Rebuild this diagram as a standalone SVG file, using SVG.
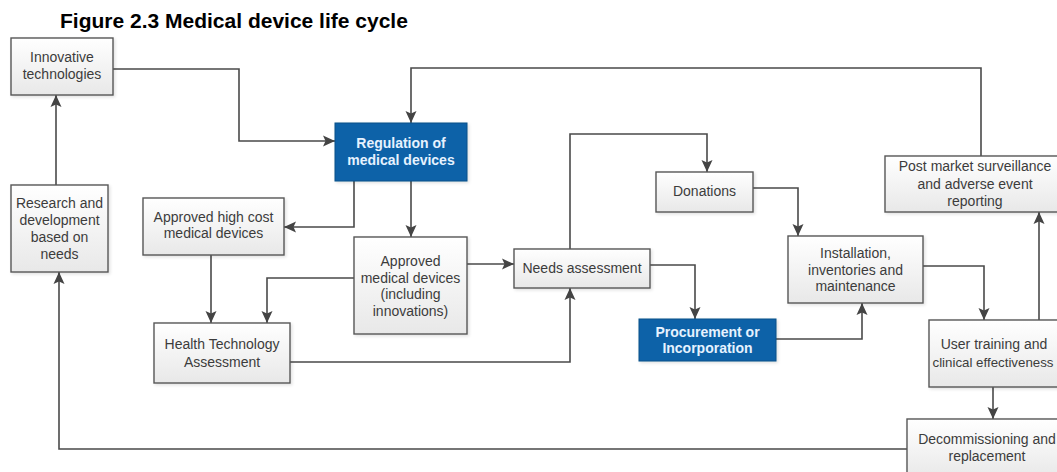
<svg xmlns="http://www.w3.org/2000/svg" width="1057" height="472" viewBox="0 0 1057 472">
<defs>
<linearGradient id="gray" x1="0" y1="0" x2="0" y2="1">
<stop offset="0" stop-color="#ffffff"/>
<stop offset="1" stop-color="#e8e8e8"/>
</linearGradient>
<filter id="sh" x="-10%" y="-10%" width="125%" height="130%">
<feDropShadow dx="1.5" dy="1.5" stdDeviation="1.5" flood-color="#000" flood-opacity="0.12"/>
</filter>
<marker id="arr" markerUnits="userSpaceOnUse" markerWidth="12" markerHeight="12" viewBox="0 0 12 12" refX="12" refY="6" orient="auto">
<path d="M0,0.5 L12,6 L0,11.5 L2.5,6 Z" fill="#444"/>
</marker>
</defs>
<style>
.box{fill:url(#gray);stroke:#575757;stroke-width:1.4;filter:url(#sh)}
.blue{fill:#0b62a8;stroke:#0a4f88;stroke-width:1;filter:url(#sh)}
.t{font-family:"Liberation Sans",Arial,sans-serif;font-size:14px;fill:#3c3c3c;text-anchor:middle}
.tb{font-family:"Liberation Sans",Arial,sans-serif;font-size:14px;font-weight:bold;fill:#e6f2ff;text-anchor:middle}
.c{fill:none;stroke:#4a4a4a;stroke-width:1.6;marker-end:url(#arr)}
</style>
<rect width="1057" height="472" fill="#ffffff"/>
<text x="60" y="28" font-family="'Liberation Sans',Arial,sans-serif" font-size="21" font-weight="bold" fill="#000">Figure 2.3 Medical device life cycle</text>

<g id="connectors">
<path class="c" d="M113,69 H239 V141 H335"/>
<path class="c" d="M56,185 V95"/>
<path class="c" d="M907,449 H59 V272"/>
<path class="c" d="M354,181 V227 H284"/>
<path class="c" d="M411,181 V237"/>
<path class="c" d="M211,255 V323"/>
<path class="c" d="M354,278 H267 V323"/>
<path class="c" d="M467,264 H514"/>
<path class="c" d="M290,362 H570 V288"/>
<path class="c" d="M570,249 V134 H707 V172"/>
<path class="c" d="M650,265 H695 V319"/>
<path class="c" d="M753,188 H798 V236"/>
<path class="c" d="M776,339 H862 V303"/>
<path class="c" d="M923,266 H984 V320"/>
<path class="c" d="M1039,320 V212"/>
<path class="c" d="M981,156 V68 H411 V123"/>
<path class="c" d="M993,387 V419"/>
</g>

<g id="innovative">
<rect class="box" x="11" y="38" width="102" height="57"/>
<text class="t" x="62" y="62">Innovative</text>
<text class="t" x="62" y="79">technologies</text>
</g>
<g id="research">
<rect class="box" x="11" y="185" width="97" height="87"/>
<text class="t" x="59.5" y="208">Research and</text>
<text class="t" x="59.5" y="225">development</text>
<text class="t" x="59.5" y="242">based on</text>
<text class="t" x="59.5" y="259">needs</text>
</g>
<g id="regulation">
<rect class="blue" x="335" y="123" width="132" height="58"/>
<text class="tb" x="401" y="148">Regulation of</text>
<text class="tb" x="401" y="165">medical devices</text>
</g>
<g id="highcost">
<rect class="box" x="143" y="198" width="141" height="57"/>
<text class="t" x="213.5" y="222">Approved high cost</text>
<text class="t" x="213.5" y="238">medical devices</text>
</g>
<g id="approved">
<rect class="box" x="354" y="237" width="113" height="97"/>
<text class="t" x="410.5" y="266">Approved</text>
<text class="t" x="410.5" y="282.5">medical devices</text>
<text class="t" x="410.5" y="299">(including</text>
<text class="t" x="410.5" y="315.5">innovations)</text>
</g>
<g id="hta">
<rect class="box" x="154" y="323" width="136" height="60"/>
<text class="t" x="222" y="349">Health Technology</text>
<text class="t" x="222" y="367">Assessment</text>
</g>
<g id="needs">
<rect class="box" x="514" y="249" width="136" height="39"/>
<text class="t" x="582" y="273">Needs assessment</text>
</g>
<g id="donations">
<rect class="box" x="656" y="172" width="97" height="40"/>
<text class="t" x="704.5" y="196">Donations</text>
</g>
<g id="procurement">
<rect class="blue" x="639" y="319" width="137" height="42"/>
<text class="tb" x="707.5" y="337">Procurement or</text>
<text class="tb" x="707.5" y="353">Incorporation</text>
</g>
<g id="installation">
<rect class="box" x="788" y="236" width="135" height="67"/>
<text class="t" x="855.5" y="258">Installation,</text>
<text class="t" x="855.5" y="274.5">inventories and</text>
<text class="t" x="855.5" y="291">maintenance</text>
</g>
<g id="postmarket">
<rect class="box" x="885" y="156" width="180" height="56"/>
<text class="t" x="975" y="171">Post market surveillance</text>
<text class="t" x="975" y="188.5">and adverse event</text>
<text class="t" x="975" y="206">reporting</text>
</g>
<g id="training">
<rect class="box" x="929" y="320" width="134" height="67"/>
<text class="t" x="994" y="349">User training and</text>
<text class="t" x="993" y="367" style="font-size:13.3px">clinical effectiveness</text>
</g>
<g id="decommissioning">
<rect class="box" x="907" y="419" width="160" height="60"/>
<text class="t" x="987" y="444">Decommissioning and</text>
<text class="t" x="987" y="461">replacement</text>
</g>
</svg>
